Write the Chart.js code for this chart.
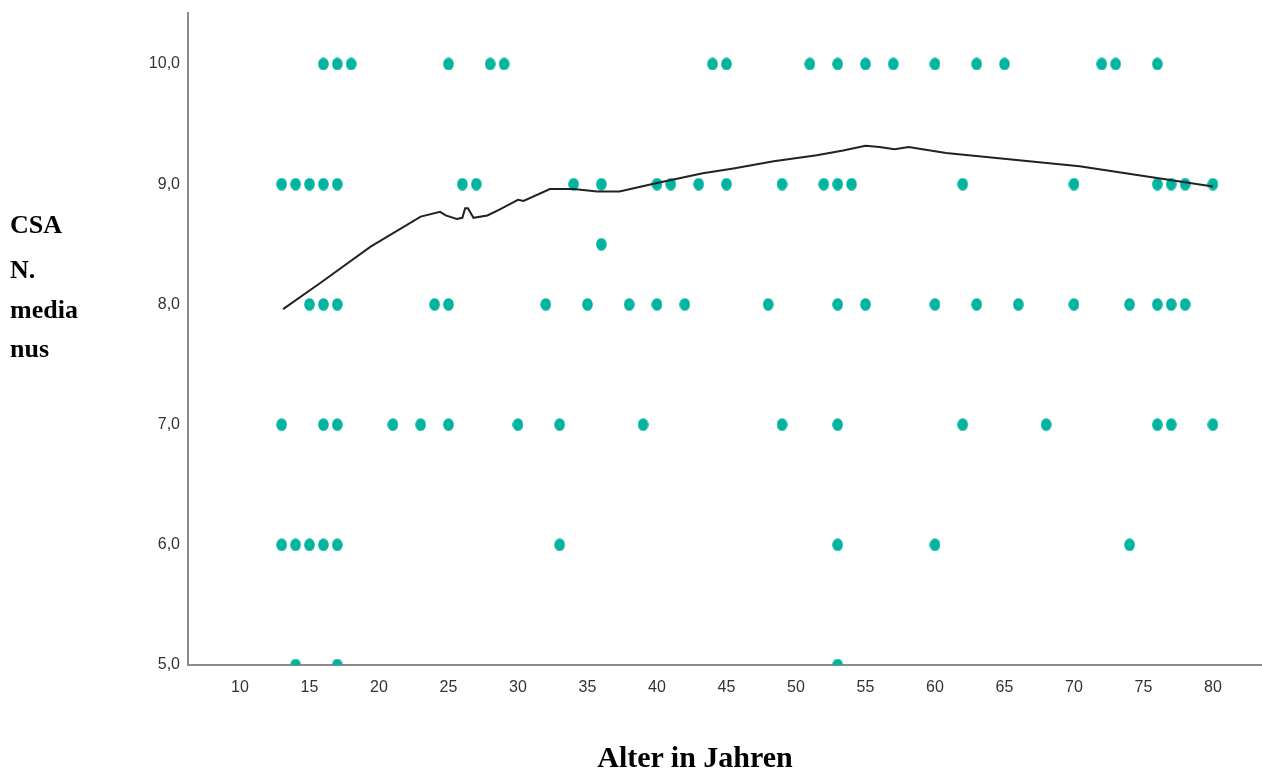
<!DOCTYPE html>
<html>
<head>
<meta charset="utf-8">
<title>CSA N. medianus – Alter in Jahren</title>
<script src="https://cdn.jsdelivr.net/npm/chart.js@4"></script>
<style>
    html, body { margin: 0; padding: 0; background: #fff; }
    #wrap { position: relative; width: 1262px; height: 771px; overflow: hidden; }
    canvas { position: absolute; left: 0; top: 0; }
    .title { position: absolute; font-family: "Liberation Serif", "Times New Roman", serif; font-weight: bold; color: #000; }
    #ytitle1 { left: 10px; top: 209px; font-size: 26px; line-height: 32px; }
    #ytitle2 { left: 10px; top: 250px; font-size: 26px; line-height: 39.5px; }
    #xtitle { left: 0; width: 1390px; text-align: center; top: 737px; font-size: 30px; line-height: 40px; }
</style>
</head>
<body>
<div id="wrap">
    <canvas id="chart" width="1262" height="771"></canvas>
    <div class="title" id="ytitle1">CSA</div>
    <div class="title" id="ytitle2">N.<br>media<br>nus</div>
    <div class="title" id="xtitle">Alter in Jahren</div>
</div>
<script>
// Alter (Jahre) je CSA-Stufe
const ages10 = [16, 17, 18, 25, 28, 29, 44, 45, 51, 53, 55, 57, 60, 63, 65, 72, 73, 76];
const ages9 = [13, 14, 15, 16, 17, 26, 27, 34, 36, 40, 41, 43, 45, 49, 52, 53, 54, 62, 70, 76, 77, 78, 80];
const ages85 = [36];
const ages8 = [15, 16, 17, 24, 25, 32, 35, 38, 40, 42, 48, 53, 55, 60, 63, 66, 70, 74, 76, 77, 78];
const ages7 = [13, 16, 17, 21, 23, 25, 30, 33, 39, 49, 53, 62, 68, 76, 77, 80];
const ages6 = [13, 14, 15, 16, 17, 33, 53, 60, 74];
const ages5 = [14, 17, 53];

// Anpassungslinie (Loess)
const fitAge = [13.1, 15.8, 19.4, 23.0, 24.4, 24.8, 25.6, 26.0, 26.2, 26.4, 26.8, 27.8, 28.7, 30.0, 30.4, 32.3, 34.0, 35.7, 37.3, 40.0, 43.3, 45.5, 48.4, 51.5, 53.4, 55.0, 56.0, 57.1, 58.1, 60.8, 70.4, 80.0];
const fitCsa = [7.96, 8.18, 8.48, 8.73, 8.77, 8.74, 8.71, 8.72, 8.80, 8.80, 8.72, 8.74, 8.79, 8.87, 8.86, 8.96, 8.96, 8.94, 8.94, 9.01, 9.09, 9.13, 9.19, 9.24, 9.28, 9.32, 9.31, 9.29, 9.31, 9.26, 9.15, 8.98];

// Achsenbeschriftung
const xTicks = [10, 15, 20, 25, 30, 35, 40, 45, 50, 55, 60, 65, 70, 75, 80];
const yTicks = [5, 6, 7, 8, 9, 10];

const levels = [
    [10, ages10], [9, ages9], [8.5, ages85], [8, ages8], [7, ages7], [6, ages6], [5, ages5]
];

const points = [];
levels.forEach(function(l) {
    l[1].forEach(function(a) { points.push({x: a, y: l[0]}); });
});
const fitLine = fitAge.map(function(a, i) { return {x: a, y: fitCsa[i]}; });

// leicht ovaler Punkt wie im SPSS-Diagramm
const dot = document.createElement('canvas');
dot.width = 11; dot.height = 13;
(function() {
    const c = dot.getContext('2d');
    c.fillStyle = '#00b4a0';
    c.beginPath();
    c.ellipse(5.5, 6.5, 5.3, 6.3, 0, 0, Math.PI * 2);
    c.fill();
})();

const tickFont = { family: '"Liberation Sans", Arial, sans-serif', size: 16 };

new Chart(document.getElementById('chart').getContext('2d'), {
    type: 'scatter',
    data: {
        datasets: [
            {
                data: points,
                pointStyle: dot,
                pointRadius: 6,
                backgroundColor: '#00b4a0',
                borderColor: '#00b4a0',
                clip: 0,
                order: 2
            },
            {
                data: fitLine,
                showLine: true,
                pointRadius: 0,
                borderColor: '#222222',
                borderWidth: 2,
                tension: 0,
                clip: 0,
                order: 1
            }
        ]
    },
    options: {
        responsive: false,
        animation: false,
        events: [],
        layout: { autoPadding: false, padding: { left: 0, right: 0, top: 13, bottom: 0 } },
        plugins: { legend: { display: false }, tooltip: { enabled: false } },
        scales: {
            x: {
                type: 'linear',
                min: 6.26,
                max: 83.53,
                grid: { display: false, drawTicks: false },
                border: { display: true, color: '#8c8c8c', width: 2 },
                afterBuildTicks: function(s) { s.ticks = xTicks.map(function(v) { return {value: v}; }); },
                afterFit: function(s) {
                    s.height = 106;
                    s.paddingLeft = 0;
                    s.paddingRight = 0;
                },
                ticks: {
                    padding: 13,
                    color: '#333',
                    font: tickFont,
                    callback: function(v) { return String(v); }
                }
            },
            y: {
                type: 'linear',
                min: 5,
                max: 10.424,
                grid: { display: false, drawTicks: false },
                border: { display: true, color: '#8c8c8c', width: 2 },
                afterBuildTicks: function(s) { s.ticks = yTicks.map(function(v) { return {value: v}; }); },
                afterFit: function(s) {
                    s.width = 188;
                    s.paddingTop = 0;
                    s.paddingBottom = 0;
                },
                ticks: {
                    padding: 8,
                    color: '#333',
                    font: tickFont,
                    callback: function(v) { return v.toFixed(1).replace('.', ','); }
                }
            }
        }
    }
});
</script>
</body>
</html>
